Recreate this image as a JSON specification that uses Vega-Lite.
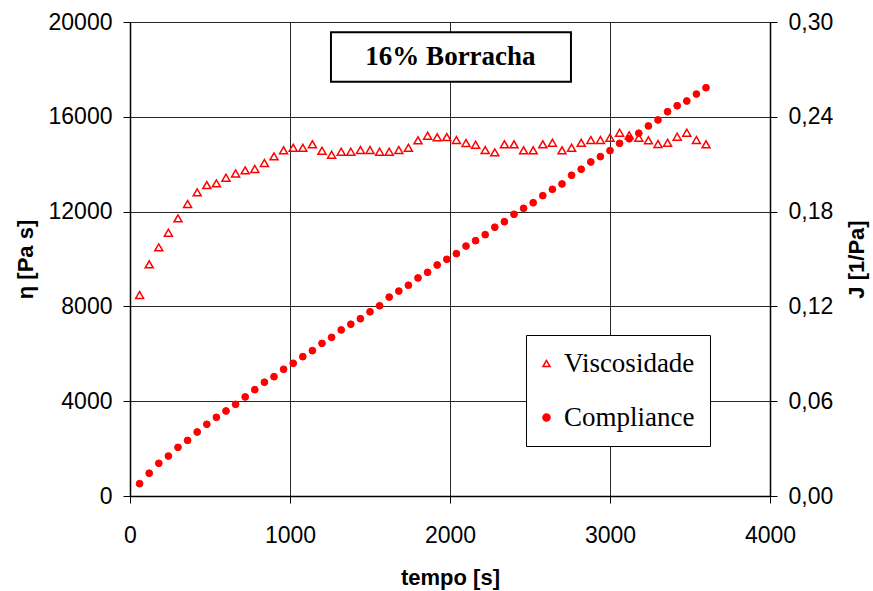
{
  "$schema": "https://vega.github.io/schema/vega-lite/v6.json",
  "width": 640,
  "height": 474,
  "autosize": {"type": "none"},
  "padding": {"left": 130, "top": 22, "right": 103, "bottom": 95},
  "background": "white",
  "config": {
    "locale": {"number": {"decimal": ",", "thousands": ".", "grouping": [3], "currency": ["", ""]}},
    "view": {"stroke": null},
    "axis": {
      "labelFont": "Liberation Sans", "labelFontSize": 23, "labelColor": "#000", "labelFlush": false, "labelOverlap": false,
      "titleFont": "Liberation Sans", "titleFontSize": 22, "titleFontWeight": "bold", "titleColor": "#000",
      "domainColor": "#000", "domainWidth": 1.5, "tickColor": "#000", "tickSize": 7, "tickWidth": 1,
      "gridColor": "#000", "gridWidth": 1, "gridOpacity": 0.85
    }
  },
  "datasets": {
    "visc": [
      {"t": 60, "eta": 8480, "serie": "Viscosidade"}, {"t": 120, "eta": 9775, "serie": "Viscosidade"},
      {"t": 180, "eta": 10490, "serie": "Viscosidade"}, {"t": 240, "eta": 11110, "serie": "Viscosidade"},
      {"t": 300, "eta": 11715, "serie": "Viscosidade"}, {"t": 360, "eta": 12320, "serie": "Viscosidade"},
      {"t": 420, "eta": 12810, "serie": "Viscosidade"}, {"t": 480, "eta": 13120, "serie": "Viscosidade"},
      {"t": 540, "eta": 13190, "serie": "Viscosidade"}, {"t": 600, "eta": 13430, "serie": "Viscosidade"},
      {"t": 660, "eta": 13610, "serie": "Viscosidade"}, {"t": 720, "eta": 13740, "serie": "Viscosidade"},
      {"t": 780, "eta": 13800, "serie": "Viscosidade"}, {"t": 840, "eta": 14050, "serie": "Viscosidade"},
      {"t": 900, "eta": 14330, "serie": "Viscosidade"}, {"t": 960, "eta": 14585, "serie": "Viscosidade"},
      {"t": 1020, "eta": 14695, "serie": "Viscosidade"}, {"t": 1080, "eta": 14695, "serie": "Viscosidade"},
      {"t": 1140, "eta": 14840, "serie": "Viscosidade"}, {"t": 1200, "eta": 14570, "serie": "Viscosidade"},
      {"t": 1260, "eta": 14400, "serie": "Viscosidade"}, {"t": 1320, "eta": 14527, "serie": "Viscosidade"},
      {"t": 1380, "eta": 14527, "serie": "Viscosidade"}, {"t": 1440, "eta": 14598, "serie": "Viscosidade"},
      {"t": 1500, "eta": 14598, "serie": "Viscosidade"}, {"t": 1560, "eta": 14527, "serie": "Viscosidade"},
      {"t": 1620, "eta": 14527, "serie": "Viscosidade"}, {"t": 1680, "eta": 14598, "serie": "Viscosidade"},
      {"t": 1740, "eta": 14695, "serie": "Viscosidade"}, {"t": 1800, "eta": 15007, "serie": "Viscosidade"},
      {"t": 1860, "eta": 15201, "serie": "Viscosidade"}, {"t": 1920, "eta": 15134, "serie": "Viscosidade"},
      {"t": 1980, "eta": 15145, "serie": "Viscosidade"}, {"t": 2040, "eta": 15020, "serie": "Viscosidade"},
      {"t": 2100, "eta": 14893, "serie": "Viscosidade"}, {"t": 2160, "eta": 14822, "serie": "Viscosidade"},
      {"t": 2220, "eta": 14598, "serie": "Viscosidade"}, {"t": 2280, "eta": 14500, "serie": "Viscosidade"},
      {"t": 2340, "eta": 14840, "serie": "Viscosidade"}, {"t": 2400, "eta": 14840, "serie": "Viscosidade"},
      {"t": 2460, "eta": 14585, "serie": "Viscosidade"}, {"t": 2520, "eta": 14585, "serie": "Viscosidade"},
      {"t": 2580, "eta": 14840, "serie": "Viscosidade"}, {"t": 2640, "eta": 14906, "serie": "Viscosidade"},
      {"t": 2700, "eta": 14585, "serie": "Viscosidade"}, {"t": 2760, "eta": 14695, "serie": "Viscosidade"},
      {"t": 2820, "eta": 14906, "serie": "Viscosidade"}, {"t": 2880, "eta": 15020, "serie": "Viscosidade"},
      {"t": 2940, "eta": 15020, "serie": "Viscosidade"}, {"t": 3000, "eta": 15118, "serie": "Viscosidade"},
      {"t": 3060, "eta": 15330, "serie": "Viscosidade"}, {"t": 3120, "eta": 15218, "serie": "Viscosidade"},
      {"t": 3180, "eta": 15118, "serie": "Viscosidade"}, {"t": 3240, "eta": 15007, "serie": "Viscosidade"},
      {"t": 3300, "eta": 14851, "serie": "Viscosidade"}, {"t": 3360, "eta": 14906, "serie": "Viscosidade"},
      {"t": 3420, "eta": 15160, "serie": "Viscosidade"}, {"t": 3480, "eta": 15330, "serie": "Viscosidade"},
      {"t": 3540, "eta": 15020, "serie": "Viscosidade"}, {"t": 3600, "eta": 14840, "serie": "Viscosidade"}
    ],
    "comp": [
      {"t": 60, "J": 0.0078, "serie": "Compliance"}, {"t": 120, "J": 0.0144, "serie": "Compliance"},
      {"t": 180, "J": 0.0207, "serie": "Compliance"}, {"t": 240, "J": 0.0253, "serie": "Compliance"},
      {"t": 300, "J": 0.0308, "serie": "Compliance"}, {"t": 360, "J": 0.0352, "serie": "Compliance"},
      {"t": 420, "J": 0.0405, "serie": "Compliance"}, {"t": 480, "J": 0.0454, "serie": "Compliance"},
      {"t": 540, "J": 0.0498, "serie": "Compliance"}, {"t": 600, "J": 0.0538, "serie": "Compliance"},
      {"t": 660, "J": 0.0580, "serie": "Compliance"}, {"t": 720, "J": 0.0627, "serie": "Compliance"},
      {"t": 780, "J": 0.0673, "serie": "Compliance"}, {"t": 840, "J": 0.0720, "serie": "Compliance"},
      {"t": 900, "J": 0.0755, "serie": "Compliance"}, {"t": 960, "J": 0.0802, "serie": "Compliance"},
      {"t": 1020, "J": 0.0840, "serie": "Compliance"}, {"t": 1080, "J": 0.0882, "serie": "Compliance"},
      {"t": 1140, "J": 0.0920, "serie": "Compliance"}, {"t": 1200, "J": 0.0966, "serie": "Compliance"},
      {"t": 1260, "J": 0.1004, "serie": "Compliance"}, {"t": 1320, "J": 0.1051, "serie": "Compliance"},
      {"t": 1380, "J": 0.1087, "serie": "Compliance"}, {"t": 1440, "J": 0.1122, "serie": "Compliance"},
      {"t": 1500, "J": 0.1166, "serie": "Compliance"}, {"t": 1560, "J": 0.1204, "serie": "Compliance"},
      {"t": 1620, "J": 0.1259, "serie": "Compliance"}, {"t": 1680, "J": 0.1297, "serie": "Compliance"},
      {"t": 1740, "J": 0.1334, "serie": "Compliance"}, {"t": 1800, "J": 0.1380, "serie": "Compliance"},
      {"t": 1860, "J": 0.1416, "serie": "Compliance"}, {"t": 1920, "J": 0.1462, "serie": "Compliance"},
      {"t": 1980, "J": 0.1498, "serie": "Compliance"}, {"t": 2040, "J": 0.1534, "serie": "Compliance"},
      {"t": 2100, "J": 0.1582, "serie": "Compliance"}, {"t": 2160, "J": 0.1616, "serie": "Compliance"},
      {"t": 2220, "J": 0.1654, "serie": "Compliance"}, {"t": 2280, "J": 0.1701, "serie": "Compliance"},
      {"t": 2340, "J": 0.1736, "serie": "Compliance"}, {"t": 2400, "J": 0.1783, "serie": "Compliance"},
      {"t": 2460, "J": 0.1821, "serie": "Compliance"}, {"t": 2520, "J": 0.1856, "serie": "Compliance"},
      {"t": 2580, "J": 0.1901, "serie": "Compliance"}, {"t": 2640, "J": 0.1941, "serie": "Compliance"},
      {"t": 2700, "J": 0.1975, "serie": "Compliance"}, {"t": 2760, "J": 0.2030, "serie": "Compliance"},
      {"t": 2820, "J": 0.2068, "serie": "Compliance"}, {"t": 2880, "J": 0.2114, "serie": "Compliance"},
      {"t": 2940, "J": 0.2148, "serie": "Compliance"}, {"t": 3000, "J": 0.2186, "serie": "Compliance"},
      {"t": 3060, "J": 0.2232, "serie": "Compliance"}, {"t": 3120, "J": 0.2261, "serie": "Compliance"},
      {"t": 3180, "J": 0.2296, "serie": "Compliance"}, {"t": 3240, "J": 0.2342, "serie": "Compliance"},
      {"t": 3300, "J": 0.2380, "serie": "Compliance"}, {"t": 3360, "J": 0.2432, "serie": "Compliance"},
      {"t": 3420, "J": 0.2470, "serie": "Compliance"}, {"t": 3480, "J": 0.2500, "serie": "Compliance"},
      {"t": 3540, "J": 0.2544, "serie": "Compliance"}, {"t": 3600, "J": 0.2584, "serie": "Compliance"}
    ]
  },
  "layer": [
    {
      "layer": [
        {
          "data": {"name": "visc"},
          "mark": {"type": "point", "filled": true, "stroke": "#ff0000", "strokeWidth": 1.5, "size": 64, "opacity": 1},
          "encoding": {
            "x": {"field": "t", "type": "quantitative", "scale": {"domain": [0, 4000]},
              "axis": {"values": [0, 1000, 2000, 3000, 4000], "format": "d", "title": "tempo [s]", "labelPadding": 21, "titlePadding": 20, "grid": true}},
            "y": {"field": "eta", "type": "quantitative", "scale": {"domain": [0, 20000]},
              "axis": {"values": [0, 4000, 8000, 12000, 16000, 20000], "format": "d", "title": "η [Pa s]", "labelPadding": 11, "titlePadding": 11, "grid": true}},
            "shape": {"field": "serie", "type": "nominal", "scale": {"domain": ["Viscosidade", "Compliance"], "range": ["triangle-up", "circle"]},
              "legend": {"title": null, "orient": "none", "legendX": 396, "legendY": 313, "padding": 15, "fillColor": "white", "strokeColor": "#000",
                "labelFont": "Liberation Serif", "labelFontSize": 27, "labelColor": "#000", "symbolSize": 50,
                "rowPadding": 26, "labelOffset": 4, "symbolOffset": -8,
                "encode": {"symbols": {"update": {"stroke": {"value": "#ff0000"}, "strokeWidth": {"value": 1.5}}}}}},
            "fill": {"field": "serie", "type": "nominal", "scale": {"domain": ["Viscosidade", "Compliance"], "range": ["transparent", "#ff0000"]},
              "legend": {"title": null, "orient": "none", "legendX": 396, "legendY": 313, "padding": 15, "fillColor": "white", "strokeColor": "#000",
                "labelFont": "Liberation Serif", "labelFontSize": 27, "labelColor": "#000", "symbolSize": 50,
                "rowPadding": 26, "labelOffset": 4, "symbolOffset": -8,
                "encode": {"symbols": {"update": {"stroke": {"value": "#ff0000"}, "strokeWidth": {"value": 1.5}}}}}}
          }
        },
        {
          "data": {"values": [{}]},
          "mark": {"type": "rect", "fill": "white", "stroke": "#000", "strokeWidth": 2},
          "encoding": {
            "x": {"datum": 1256, "type": "quantitative"},
            "x2": {"datum": 2756},
            "y": {"datum": 19565, "type": "quantitative", "scale": {"domain": [0, 20000]}},
            "y2": {"datum": 17481}
          }
        },
        {
          "data": {"values": [{"label": "16% Borracha"}]},
          "mark": {"type": "text", "font": "Liberation Serif", "fontWeight": "bold", "fontSize": 27, "color": "#000", "baseline": "middle", "align": "center"},
          "encoding": {
            "x": {"datum": 2003, "type": "quantitative"},
            "y": {"datum": 18523, "type": "quantitative", "scale": {"domain": [0, 20000]}},
            "text": {"field": "label"}
          }
        }
      ]
    },
    {
      "data": {"name": "comp"},
      "mark": {"type": "point", "filled": true, "stroke": "#ff0000", "strokeWidth": 1, "size": 46, "opacity": 1},
      "encoding": {
        "x": {"field": "t", "type": "quantitative", "scale": {"domain": [0, 4000]}},
        "y": {"field": "J", "type": "quantitative", "scale": {"domain": [0, 0.3]},
          "axis": {"orient": "right", "values": [0, 0.06, 0.12, 0.18, 0.24, 0.3], "format": ".2f", "title": "J [1/Pa]", "titleAngle": 270, "labelPadding": 11, "titlePadding": 36, "grid": false}},
        "shape": {"field": "serie", "type": "nominal"},
        "fill": {"field": "serie", "type": "nominal"}
      }
    }
  ],
  "resolve": {"scale": {"y": "independent"}}
}
